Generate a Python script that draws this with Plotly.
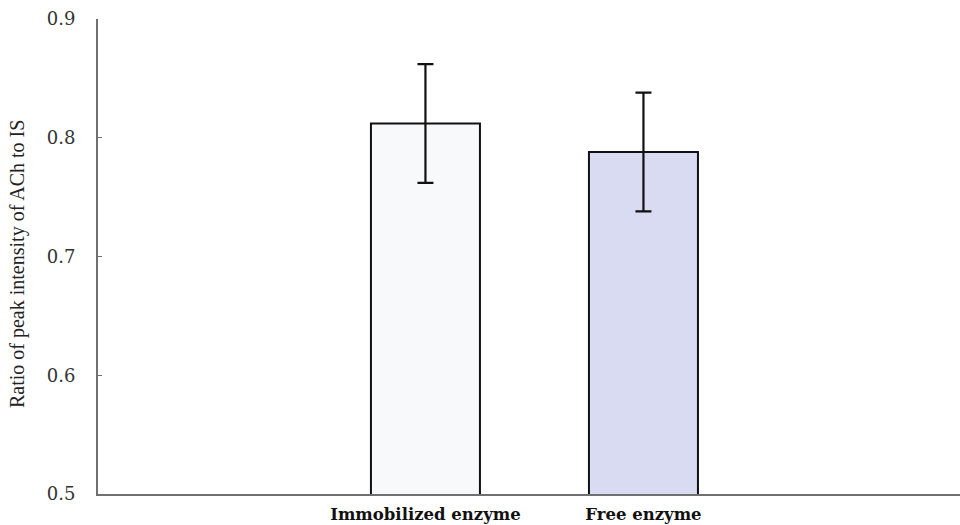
import plotly.graph_objects as go

categories = ["Immobilized enzyme", "Free enzyme"]
ratios = [0.812, 0.788]
errors = [0.05, 0.05]
fills = ["#F8F9FB", "#D9DBF3"]
y_ticks = [0.5, 0.6, 0.7, 0.8, 0.9]
y_title = "Ratio of peak intensity of ACh to IS"

fig = go.Figure()
fig.add_trace(go.Bar(
    x=categories,
    y=ratios,
    width=0.5,
    marker=dict(color=fills, line=dict(color="#111111", width=2)),
    error_y=dict(type="data", array=errors, visible=True,
                 color="#111111", thickness=2.2, width=8),
    showlegend=False,
))

fig.update_layout(
    width=960, height=525,
    margin=dict(l=98, r=0, t=19, b=31),
    paper_bgcolor="white", plot_bgcolor="white",
    font=dict(family="Liberation Serif", color="#222222"),
    bargap=0.5,
)
fig.update_yaxes(
    range=[0.5, 0.9], tickvals=y_ticks, ticktext=[f"{v:.1f}" for v in y_ticks],
    showline=True, linecolor="#707070", linewidth=2,
    ticks="inside", ticklen=4, tickcolor="#707070",
    showgrid=False, zeroline=False,
    tickfont=dict(size=18, family="DejaVu Serif", color="#333333"),
    ticklabelstandoff=17,
)
fig.update_xaxes(
    type="category", range=[-1.502, 2.452],
    showline=True, linecolor="#707070", linewidth=2,
    ticks="", showgrid=False, zeroline=False,
    tickfont=dict(size=16.5, family="DejaVu Serif", color="#111111", weight="bold"),
    ticklabelstandoff=4,
)

# rotated y-axis title placed beside the tick labels
fig.add_annotation(
    text=y_title, textangle=-90, showarrow=False,
    xref="paper", yref="paper",
    x=(17 - 98) / 862, y=(494 - 264) / 475,
    xanchor="center", yanchor="middle",
    font=dict(size=20, family="Liberation Serif", color="#222222"),
)

fig.write_html("out.html")
